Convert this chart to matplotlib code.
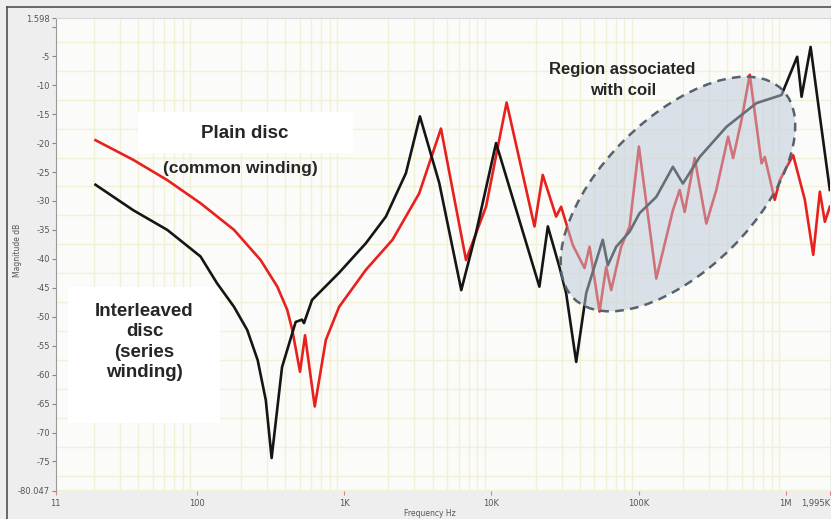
import matplotlib.pyplot as plt
import numpy as np
from matplotlib.patches import Ellipse, Rectangle
from matplotlib.lines import Line2D
from matplotlib.ticker import FixedLocator, LogLocator, NullFormatter
from matplotlib.transforms import ScaledTranslation

# interleaved disc (series winding), black trace
freq_interleaved = [20.5, 37, 63, 106, 137, 179, 220, 259, 294, 322, 379, 469, 518, 534, 606,
                    925, 1406, 1923, 2630, 3275, 4430, 6250, 7870, 10770, 21200, 24200,
                    29000, 32200, 37700, 44100, 57100, 61800, 70500, 86900, 101600, 131900,
                    171000, 200000, 260000, 395000, 632000, 935000, 1194000, 1279000,
                    1473000, 1703000, 1990000]
db_interleaved = [-27.2, -31.6, -35.0, -39.6, -44.2, -48.3, -52.3, -57.5, -64.4, -74.4, -58.7,
                  -50.9, -50.5, -51.1, -47.1, -42.4, -37.3, -32.7, -25.2, -15.4, -26.9, -45.4,
                  -35.5, -20.0, -44.8, -34.4, -41.4, -45.9, -57.8, -45.9, -36.7, -41.1, -37.9,
                  -35.3, -32.1, -29.3, -24.1, -27.0, -22.4, -17.2, -13.1, -11.7, -5.1, -12.0,
                  -3.4, -15.4, -28.1]

# plain disc (common winding), red trace
freq_plain = [20.5, 37, 63, 106, 179, 271, 352, 411, 445, 502, 543, 632, 752, 925, 1406, 2133,
              3236, 4550, 6730, 9200, 12700, 19630, 22340, 27540, 29790, 35730, 42950, 46450,
              54330, 60260, 65160, 76210, 86900, 100500, 131900, 171000, 190100, 205600,
              240400, 288400, 337300, 405500, 438500, 500000, 568900, 683900, 719500,
              841000, 909900, 1012000, 1122000, 1346000, 1535000, 1702000, 1841000, 1990000]
db_plain = [-19.5, -22.9, -26.4, -30.4, -35.0, -40.2, -44.8, -48.8, -52.3, -59.5, -53.2, -65.5,
            -54.0, -48.3, -41.9, -36.7, -28.7, -17.5, -40.2, -31.0, -13.0, -34.4, -25.5, -32.7,
            -31.0, -37.6, -41.6, -37.9, -49.1, -41.4, -45.4, -37.9, -34.4, -20.6, -43.4,
            -31.6, -28.1, -31.9, -22.6, -33.9, -28.1, -18.9, -22.6, -16.0, -8.2, -23.5,
            -22.4, -29.8, -26.4, -24.1, -22.1, -29.8, -39.3, -28.4, -33.6, -31.0]

x_ticks = [11, 100, 1e3, 1e4, 1e5, 1e6, 1.995e6]
x_labels = ['11', '100', '1K', '10K', '100K', '1M', '1,995K']
y_ticks = [1.598, 0] + list(range(-5, -80, -5)) + [-80.047]
y_labels = ['1.598', ''] + [str(v) for v in range(-5, -80, -5)] + ['-80.047']

fig = plt.figure(figsize=(8.31, 5.19), dpi=100, facecolor='#eeeeee')
ax = fig.add_axes([0.067, 0.0545, 0.9318, 0.9108])
ax.set_facecolor('#fbfbf9')

ax.plot(freq_plain, db_plain, color='#e8201e', lw=1.9, zorder=2, solid_joinstyle='round')
ax.plot(freq_interleaved, db_interleaved, color='#151515', lw=1.9, zorder=2.1,
        solid_joinstyle='round')

ax.set_xscale('log')
ax.set_xlim(11, 1.995e6)
ax.set_ylim(-80.047, 1.598)

ax.set_xticks(x_ticks)
ax.set_xticklabels(x_labels)
ax.get_xticklabels()[-1].set_ha('right')
ax.set_yticks(y_ticks)
ax.set_yticklabels(y_labels)
ax.xaxis.set_minor_locator(LogLocator(base=10, subs=np.arange(1, 10), numticks=20))
ax.xaxis.set_minor_formatter(NullFormatter())
ax.yaxis.set_minor_locator(FixedLocator(np.arange(-80, 0.1, 2.5)))
ax.tick_params(which='minor', length=0)
ax.tick_params(axis='y', which='major', labelsize=6, colors='#888888', labelcolor='#555555',
               length=3, width=0.8, pad=1)
ax.tick_params(axis='x', which='major', labelsize=6, colors='#e08080', labelcolor='#555555',
               length=3, width=0.8, pad=3)

ax.set_axisbelow(True)
ax.grid(which='minor', color='#f1f1d8', lw=1.0)
ax.grid(which='major', visible=False)

for side in ['right', 'bottom']:
    ax.spines[side].set_visible(False)
ax.spines['left'].set_color('#999999')
ax.spines['top'].set_color('#d8d8d8')

# white label boxes
ax.add_patch(Rectangle((0.1063, 0.7138), 0.2775, 0.088, transform=ax.transAxes,
                       facecolor='white', edgecolor='none', zorder=1))
ax.add_patch(Rectangle((0.0159, 0.1432), 0.1963, 0.2877, transform=ax.transAxes,
                       facecolor='white', edgecolor='none', zorder=1))

txt = dict(family=['Liberation Sans', 'DejaVu Sans'], weight='bold', color='#262626',
           ha='center', va='center', transform=ax.transAxes, zorder=1.5)
ax.text(0.2445, 0.7562, 'Plain disc', fontsize=13.5, **txt)
ax.text(0.2389, 0.6820, '(common winding)', fontsize=12.5, **txt)
ax.text(0.1147, 0.3146, 'Interleaved\ndisc\n(series\nwinding)', fontsize=13.5,
        linespacing=1.25, **txt)
ax.text(0.7322, 0.8688, 'Region associated\nwith coil', fontsize=12, linespacing=1.45, **txt)

# dashed ellipse marking the coil region (size in inches, centre in data units)
ell = Ellipse((0, 0), 2.95, 1.52, angle=45,
              transform=fig.dpi_scale_trans + ScaledTranslation(185000, -28.8, ax.transData),
              facecolor=(0.72, 0.78, 0.85, 0.5), edgecolor='#56626e', lw=1.8,
              linestyle=(0, (3.5, 2.5)), zorder=3)
ax.add_patch(ell)

fig.text(17 / 831, 1 - 250 / 519, 'Magnitude dB', rotation=90, fontsize=5.5,
         color='#555555', ha='center', va='center')
fig.text(430 / 831, 1 - 513 / 519, 'Frequency Hz', fontsize=5.5, color='#555555',
         ha='center', va='center')

# outer screenshot frame
fig.add_artist(Line2D([7 / 831, 1], [1 - 7 / 519, 1 - 7 / 519], color='#505050', lw=1.2))
fig.add_artist(Line2D([7 / 831, 7 / 831], [0, 1 - 7 / 519], color='#505050', lw=1.2))

plt.savefig('out.png', dpi=100, facecolor=fig.get_facecolor())
